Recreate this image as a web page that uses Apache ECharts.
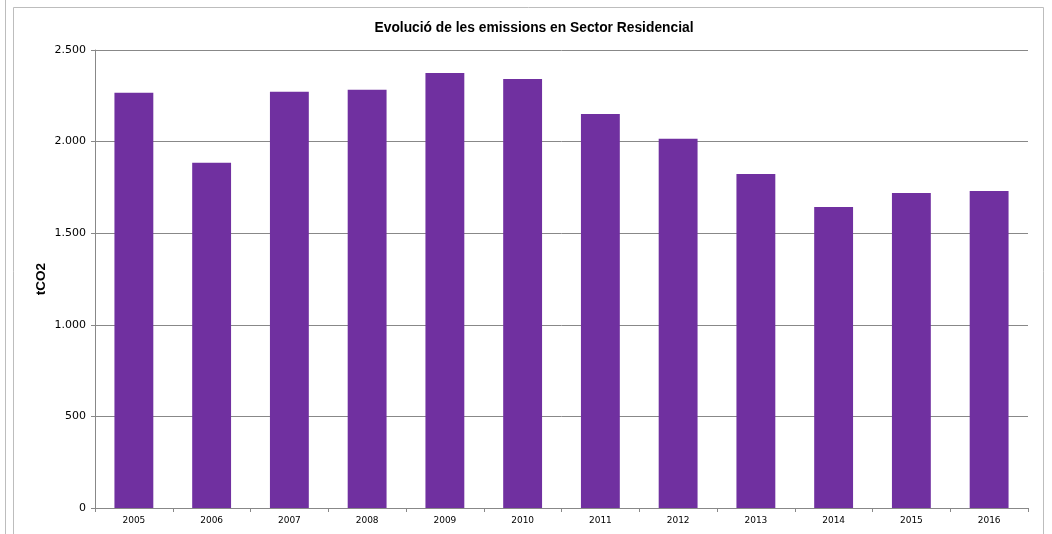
<!DOCTYPE html>
<html>
<head>
<meta charset="utf-8">
<script src="https://cdn.jsdelivr.net/npm/echarts@6/dist/echarts.min.js"></script>
<style>
	html, body { margin: 0; padding: 0; background: #fff; }
	#main { width: 1052px; height: 534px; }
</style>
</head>
<body>
<div id="main"></div>
<script>
// dades del gràfic
var anys = ['2005', '2006', '2007', '2008', '2009', '2010', '2011', '2012', '2013', '2014', '2015', '2016'];
var emissions = [2266, 1884, 2272, 2283, 2375, 2342, 2151, 2015, 1823, 1643, 1719, 1730];
var ticksY = [0, 500, 1000, 1500, 2000, 2500];

var myChart = echarts.init(document.getElementById('main'));

// format amb punt de milers
function milers(v) {
	return String(v).replace(/\B(?=(\d{3})+(?!\d))/g, '.');
}

var option = {
	animation: false,
	backgroundColor: '#fff',
	title: {
		text: 'Evolució de les emissions en Sector Residencial',
		left: 529,
		top: 16,
		textAlign: 'center',
		textStyle: {
			fontFamily: 'Liberation Sans',
			fontSize: 13.8,
			fontWeight: 'bold',
			color: '#000'
		}
	},
	graphic: [{
		type: 'rect',
		shape: { x: 13.5, y: 7.5, width: 1030, height: 540 },
		style: { fill: 'none', stroke: '#bdbdbd', lineWidth: 1 }
	}, {
		type: 'line',
		shape: { x1: 5.5, y1: 0, x2: 5.5, y2: 534 },
		style: { stroke: '#bdbdbd', lineWidth: 1 }
	}, {
		// títol de l'eix Y
		type: 'text',
		left: 34,
		top: 263,
		rotation: Math.PI / 2,
		style: {
			text: 'tCO2',
			fontFamily: 'Liberation Sans',
			fontSize: 13.5,
			fontWeight: 'bold',
			fill: '#000'
		}
	}],
	grid: {
		left: 95,
		right: 24,
		top: 50,
		bottom: 26
	},
	xAxis: {
		type: 'category',
		data: anys,
		axisLine: { lineStyle: { color: '#888', width: 1 } },
		axisTick: { show: true, length: 4, lineStyle: { color: '#888' } },
		axisLabel: {
			fontFamily: 'DejaVu Sans',
			fontSize: 9,
			color: '#000',
			margin: 8
		}
	},
	yAxis: {
		type: 'value',
		min: ticksY[0],
		max: ticksY[ticksY.length - 1],
		interval: 500,
		axisLine: { show: true, lineStyle: { color: '#888', width: 1 } },
		axisTick: { show: true, length: 4, inside: false, lineStyle: { color: '#888' } },
		axisLabel: {
			fontFamily: 'DejaVu Sans',
			fontSize: 11,
			color: '#000',
			margin: 9,
			formatter: milers
		},
		splitLine: { lineStyle: { color: '#888', width: 1 } }
	},
	series: [{
		name: 'tCO2',
		type: 'bar',
		data: emissions,
		barWidth: '50%',
		itemStyle: { color: '#7030A0' }
	}]
};

myChart.setOption(option);
</script>
</body>
</html>
